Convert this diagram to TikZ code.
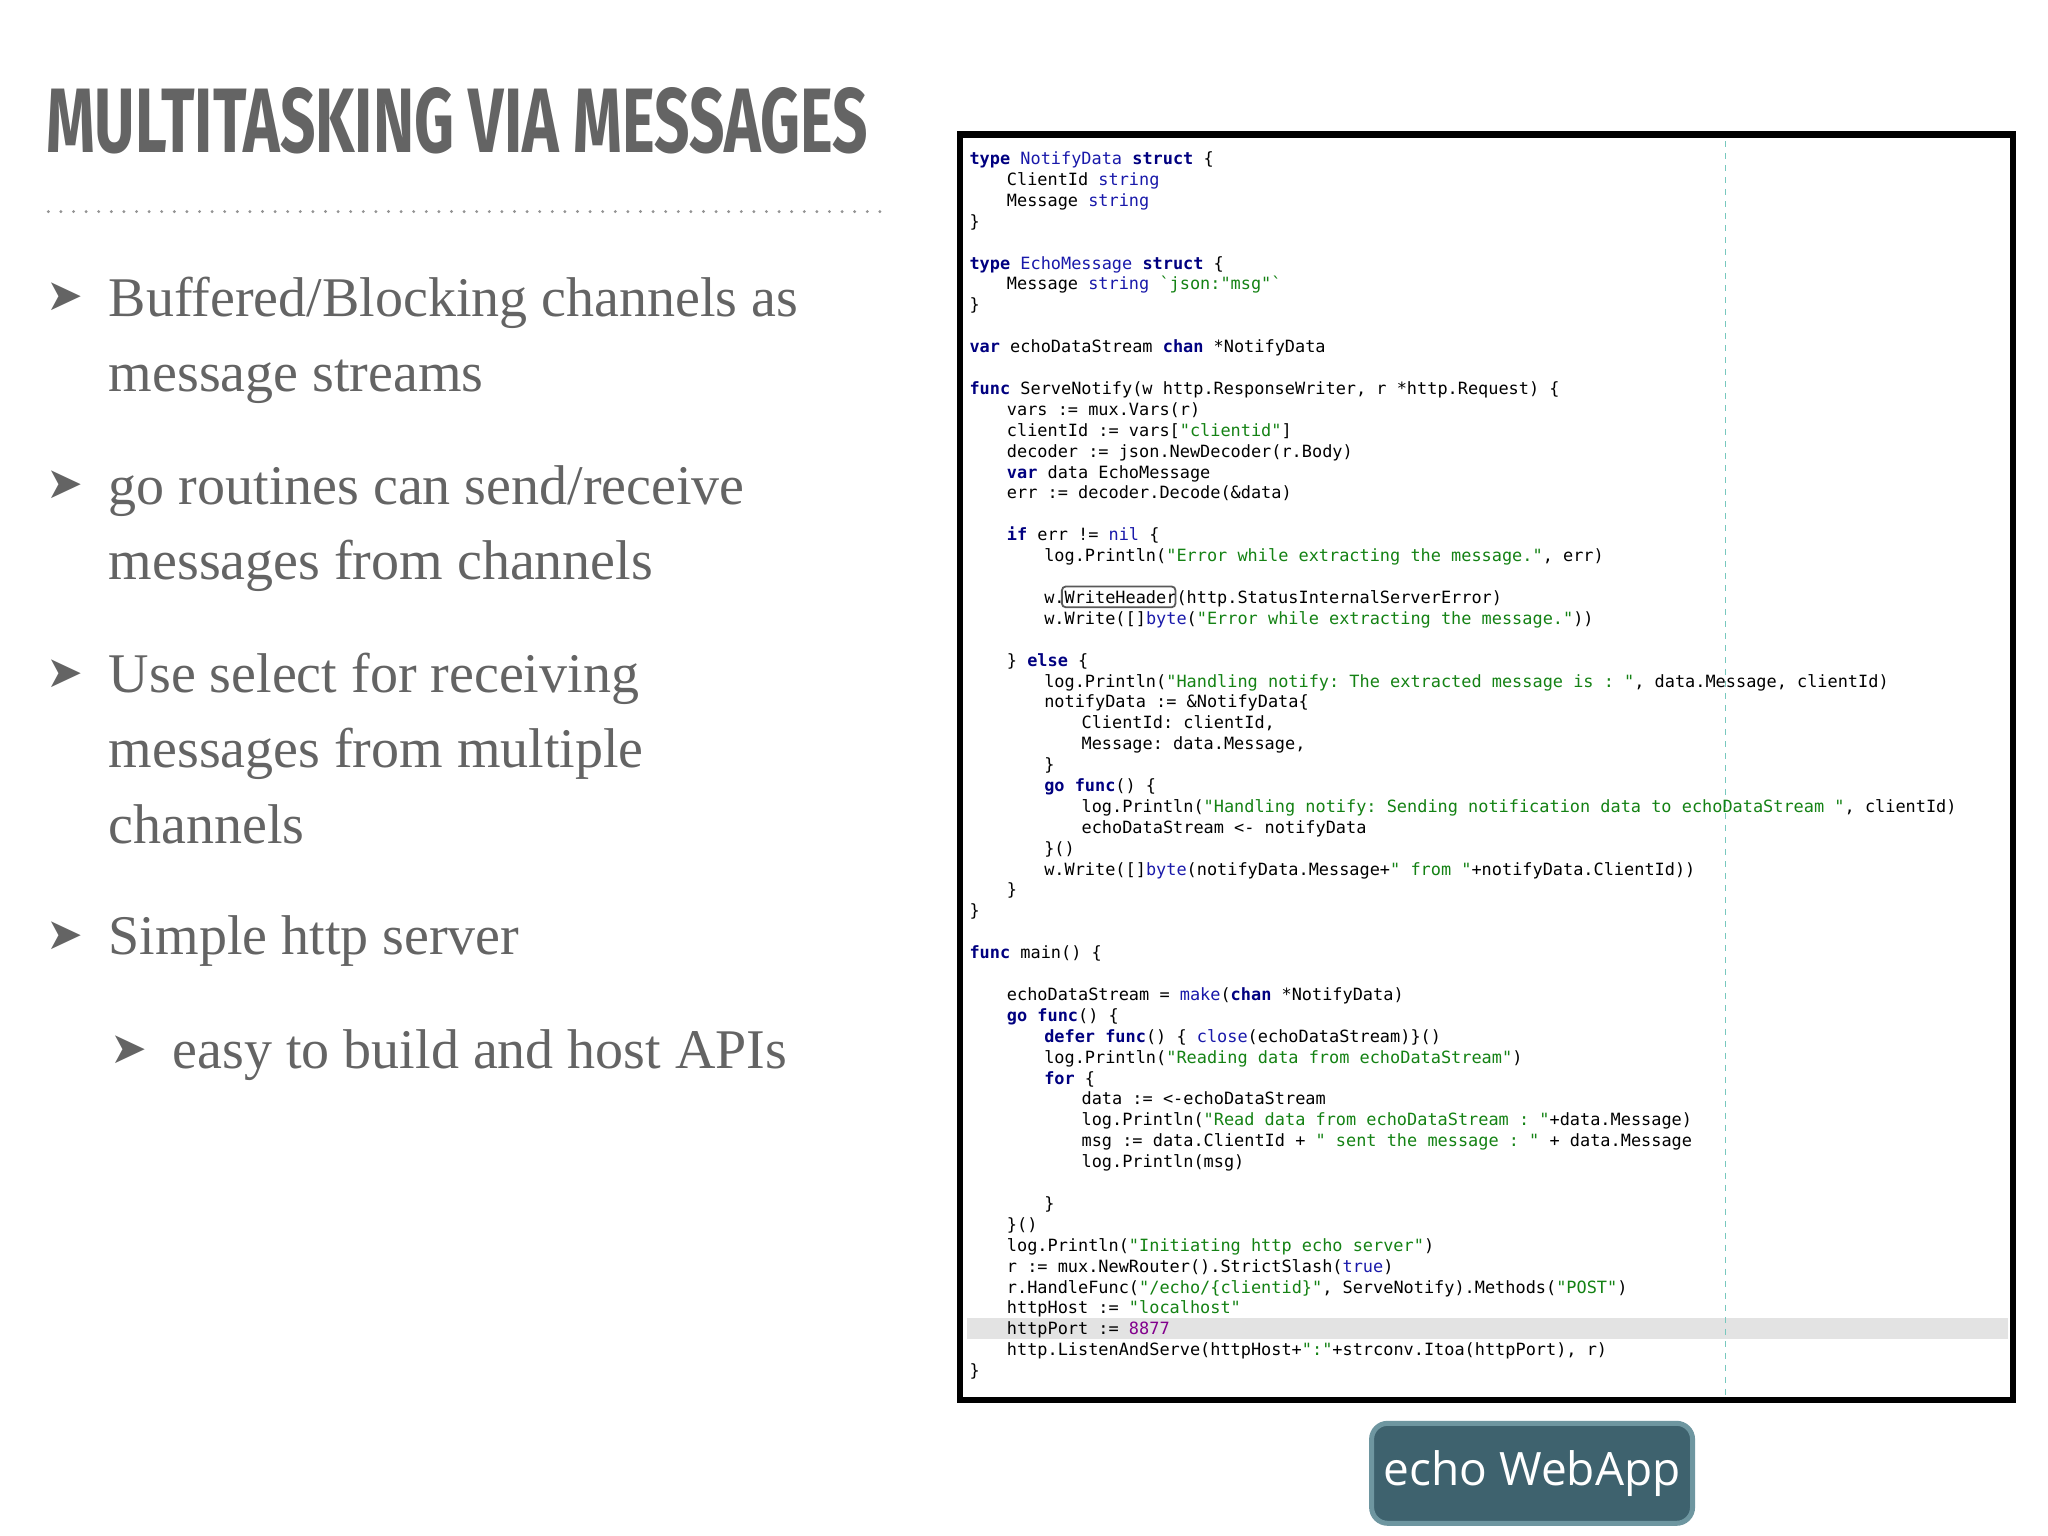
\documentclass[tikz,border=0pt]{standalone}
\usepackage{fontspec}
\setmainfont{Liberation Serif}
\setmonofont{DejaVu Sans Mono}
\newfontfamily\titlefont{Fira Sans}
\newfontfamily\symfont{DejaVu Sans}
\newfontfamily\btnfont{Open Sans}
\definecolor{slidegray}{RGB}{100,100,100}
\definecolor{kwc}{RGB}{0,0,128}
\definecolor{tyc}{RGB}{25,25,170}
\definecolor{strc}{RGB}{20,130,20}
\definecolor{numc}{RGB}{130,0,140}
\definecolor{guide}{RGB}{120,200,190}
\definecolor{btnfill}{RGB}{62,98,110}
\definecolor{btnedge}{RGB}{110,150,160}
\newcommand{\kw}[1]{\textcolor{kwc}{\bfseries #1}}
\newcommand{\ty}[1]{\textcolor{tyc}{#1}}
\newcommand{\st}[1]{\textcolor{strc}{#1}}
\newcommand{\cl}[3]{\node[codeline] (l#1) at ({742+#2*28.6},{126+16*#1}) {#3};}
\tikzset{
  codeline/.style={anchor=base west,inner sep=0pt,font=\ttfamily\fontsize{8.45}{10}\selectfont,text=black},
  bullettext/.style={anchor=base west,inner sep=0pt,font=\fontsize{28}{34}\selectfont,text=slidegray},
  bulletmark/.style={anchor=base west,inner sep=0pt,font=\symfont\fontsize{22}{26}\selectfont,text=slidegray}
}
\begin{document}
\begin{tikzpicture}[x=0.6531pt,y=-0.6531pt]
\useasboundingbox (0,0) rectangle (1568,1176);
\fill[white] (0,0) rectangle (1568,1176);
% title
\node[anchor=south west,inner sep=0pt,text=slidegray] (title) at (35,118)
  {\resizebox{411pt}{32.5pt}{\titlefont\bfseries MULTITASKING VIA MESSAGES}};
\draw[slidegray!70,line width=1.6pt,dash pattern=on 0pt off 6.3pt,line cap=round] (37,162) -- (678,162);
% bullets
\node[bulletmark] (m1) at (35,238) {➤};
\node[bullettext] (b1a) at (83,242) {Buffered/Blocking channels as};
\node[bullettext] (b1b) at (83,300) {message streams};
\node[bulletmark] (m2) at (35,382) {➤};
\node[bullettext] (b2a) at (83,386) {go routines can send/receive};
\node[bullettext] (b2b) at (83,444) {messages from channels};
\node[bulletmark] (m3) at (35,526) {➤};
\node[bullettext] (b3a) at (83,530) {Use select for receiving};
\node[bullettext] (b3b) at (83,588) {messages from multiple};
\node[bullettext] (b3c) at (83,646) {channels};
\node[bulletmark] (m4) at (35,727) {➤};
\node[bullettext] (b4) at (83,731) {Simple http server};
\node[bulletmark] (m5) at (84,814) {➤};
\node[bullettext] (b5) at (132,818) {easy to build and host APIs};
% code panel
\fill[gray!22] (740,1009) rectangle (1537,1025);
\draw[guide,dashed,line width=0.6pt] (1321,108) -- (1321,1068);
\draw[black,line width=3.2pt] (735,103) rectangle (1541,1072);
\cl{0}{0}{\kw{type} \ty{NotifyData} \kw{struct} \{}
\cl{1}{1}{ClientId \ty{string}}
\cl{2}{1}{Message  \ty{string}}
\cl{3}{0}{\}}
\cl{5}{0}{\kw{type} \ty{EchoMessage} \kw{struct} \{}
\cl{6}{1}{Message \ty{string} \st{`json:"msg"`}}
\cl{7}{0}{\}}
\cl{9}{0}{\kw{var} echoDataStream \kw{chan} *NotifyData}
\cl{11}{0}{\kw{func} ServeNotify(w http.ResponseWriter, r *http.Request) \{}
\cl{12}{1}{vars := mux.Vars(r)}
\cl{13}{1}{clientId := vars[\st{"clientid"}]}
\cl{14}{1}{decoder := json.NewDecoder(r.Body)}
\cl{15}{1}{\kw{var} data EchoMessage}
\cl{16}{1}{err := decoder.Decode(\&data)}
\cl{18}{1}{\kw{if} err != \ty{nil} \{}
\cl{19}{2}{log.Println(\st{"Error while extracting the message."}, err)}
\cl{21}{2}{w.WriteHeader(http.StatusInternalServerError)}
\cl{22}{2}{w.Write([]\ty{byte}(\st{"Error while extracting the message."}))}
\cl{24}{1}{\} \kw{else} \{}
\cl{25}{2}{log.Println(\st{"Handling notify:  The extracted message is : "}, data.Message, clientId)}
\cl{26}{2}{notifyData := \&NotifyData\{}
\cl{27}{3}{ClientId: clientId,}
\cl{28}{3}{Message:  data.Message,}
\cl{29}{2}{\}}
\cl{30}{2}{\kw{go} \kw{func}() \{}
\cl{31}{3}{log.Println(\st{"Handling notify:  Sending notification data to echoDataStream "}, clientId)}
\cl{32}{3}{echoDataStream <- notifyData}
\cl{33}{2}{\}()}
\cl{34}{2}{w.Write([]\ty{byte}(notifyData.Message+\st{" from "}+notifyData.ClientId))}
\cl{35}{1}{\}}
\cl{36}{0}{\}}
\cl{38}{0}{\kw{func} main() \{}
\cl{40}{1}{echoDataStream = \ty{make}(\kw{chan} *NotifyData)}
\cl{41}{1}{\kw{go} \kw{func}() \{}
\cl{42}{2}{\kw{defer} \kw{func}() \{ \ty{close}(echoDataStream)\}()}
\cl{43}{2}{log.Println(\st{"Reading data from echoDataStream"})}
\cl{44}{2}{\kw{for}  \{}
\cl{45}{3}{data := <-echoDataStream}
\cl{46}{3}{log.Println(\st{"Read data from echoDataStream : "}+data.Message)}
\cl{47}{3}{msg := data.ClientId + \st{" sent the message : "} + data.Message}
\cl{48}{3}{log.Println(msg)}
\cl{50}{2}{\}}
\cl{51}{1}{\}()}
\cl{52}{1}{log.Println(\st{"Initiating http echo server"})}
\cl{53}{1}{r := mux.NewRouter().StrictSlash(\ty{true})}
\cl{54}{1}{r.HandleFunc(\st{"/echo/\{clientid\}"}, ServeNotify).Methods(\st{"POST"})}
\cl{55}{1}{httpHost := \st{"localhost"}}
\cl{56}{1}{httpPort := \textcolor{numc}{8877}}
\cl{57}{1}{http.ListenAndServe(httpHost+\st{":"}+strconv.Itoa(httpPort), r)}
\cl{58}{0}{\}}
\draw[gray!70!black,line width=0.9pt,rounded corners=2pt] (813,449) rectangle (900,465);
% button
\node[draw=btnedge,fill=btnfill,line width=2.5pt,rounded corners=8pt,minimum width=160.5pt,minimum height=50pt,
  text=white,font=\btnfont\fontsize{23}{26}\selectfont] (btn) at (1173,1128) {echo WebApp};
\end{tikzpicture}
\end{document}
